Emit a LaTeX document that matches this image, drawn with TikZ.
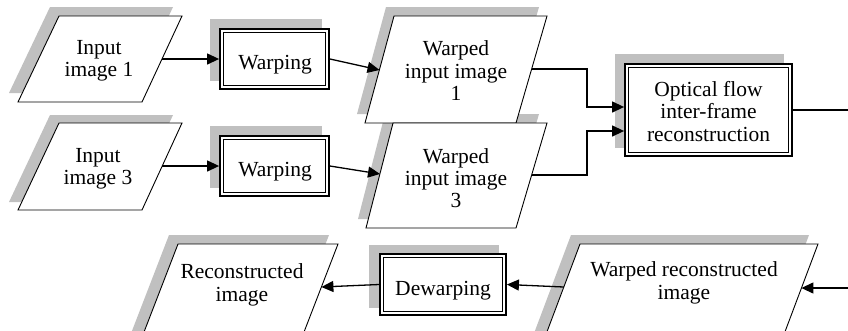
\documentclass[tikz,border=0pt]{standalone}
\usepackage{fontspec}
\setmainfont{Liberation Serif}
\usetikzlibrary{arrows.meta}
\definecolor{shgray}{HTML}{C0C0C0}
\begin{document}
\begin{tikzpicture}[x=1pt,y=-1pt,
  shadowpart/.style={fill=shgray,draw=none},
  para/.style={draw=black,fill=white,line width=0.9pt,line join=miter},
  procbox/.style={draw=black,fill=white,line width=1.8pt,inner sep=0pt,
    path picture={\draw[line width=0.9pt] ([shift={(3.2pt,-3.2pt)}]path picture bounding box.north west) rectangle ([shift={(-3.2pt,3.2pt)}]path picture bounding box.south east);}},
  lbl/.style={align=center,inner sep=0pt,font=\fontsize{21.5pt}{22.3pt}\selectfont},
  conn/.style={line width=1.3pt,-{Triangle[length=12pt,width=11pt]}},
  link/.style={line width=1.3pt}
]
\useasboundingbox (0,0) rectangle (848,330);
\clip (0,0) rectangle (848,330);

% shadows
\fill[shadowpart] (50,7) -- (173,7) -- (133,93) -- (9,93) -- cycle;
\fill[shadowpart] (50,115) -- (173,115) -- (133,202) -- (9,202) -- cycle;
\fill[shadowpart] (386,7) -- (539,7) -- (508,114) -- (357,114) -- cycle;
\fill[shadowpart] (385,114) -- (539,114) -- (508,219) -- (358,219) -- cycle;
\fill[shadowpart] (169,235) -- (329,235) -- (290,336) -- (130,336) -- cycle;
\fill[shadowpart] (571,235) -- (809,235) -- (771,336) -- (533,336) -- cycle;
\fill[shadowpart] (210,19) rectangle (322,81);
\fill[shadowpart] (210,126) rectangle (322,188);
\fill[shadowpart] (615,54) rectangle (784,148);
\fill[shadowpart] (369,245) rectangle (499,308);

% parallelograms
\draw[para] (59,16) -- (182,16) -- (142,102) -- (18,102) -- cycle;
\draw[para] (59,123) -- (182,123) -- (142,210) -- (18,210) -- cycle;
\draw[para] (394,16) -- (547,16) -- (516,123) -- (365,123) -- cycle;
\draw[para] (393,123) -- (547,123) -- (516,228) -- (366,228) -- cycle;
\draw[para] (178,244) -- (338,244) -- (299,345) -- (139,345) -- cycle;
\draw[para] (580,244) -- (818,244) -- (780,345) -- (542,345) -- cycle;

% process boxes
\node[procbox,minimum width=109pt,minimum height=60pt] (w1) at (274.5,59) {};
\node[procbox,minimum width=109pt,minimum height=60pt] (w2) at (274.5,166) {};
\node[procbox,minimum width=167pt,minimum height=92pt] (of) at (708.5,110) {};
\node[procbox,minimum width=126pt,minimum height=61pt] (dw) at (443,284.5) {};

% labels
\node[lbl] (t-in1) at (99,61) {Input\\image 1};
\node[lbl] (t-in3) at (98,169) {Input\\image 3};
\node[lbl] (t-wp1) at (456,70.7) {Warped\\input image\\1};
\node[lbl] (t-wp3) at (456,178) {Warped\\input image\\3};
\node[lbl] (t-w1) at (275,65) {Warping};
\node[lbl] (t-w2) at (275,172) {Warping};
\node[lbl] (t-of) at (708.5,111.5) {Optical flow\\inter-frame\\reconstruction};
\node[lbl] (t-dw) at (443,291) {Dewarping};
\node[lbl] (t-rc) at (242,285) {Reconstructed\\image};
\node[lbl] (t-wr) at (684,283) {Warped reconstructed\\image};

% connector end points on the parallelograms
\coordinate (in1e) at (162,59);
\coordinate (in3e) at (162,166);
\coordinate (wp1w) at (379.5,70);
\coordinate (wp3w) at (380,174);
\coordinate (wp1e) at (531.6,69);
\coordinate (wp3e) at (531.6,175);
\coordinate (jx) at (587,0);
\coordinate (rim) at (849,0);
\coordinate (wre) at (801.4,288);
\coordinate (wrw) at (563.8,287);
\coordinate (rce) at (321.4,287);

% connectors
\draw[conn] (in1e) -- (w1.west);
\draw[conn] (in3e) -- (w2.west);
\draw[conn] (w1.east) -- (wp1w);
\draw[conn] (w2.east) -- (wp3w);
\draw[conn] (wp1e) -- (wp1e -| jx) |- ([yshift=3pt]of.west);
\draw[conn] (wp3e) -- (wp3e -| jx) |- ([yshift=-21pt]of.west);
\draw[link] (of.east) -- (of.east -| rim);
\draw[conn] (wre -| rim) -- (wre);
\draw[conn] (wrw) -- (dw.east);
\draw[conn] (dw.west) -- (rce);
\end{tikzpicture}
\end{document}
